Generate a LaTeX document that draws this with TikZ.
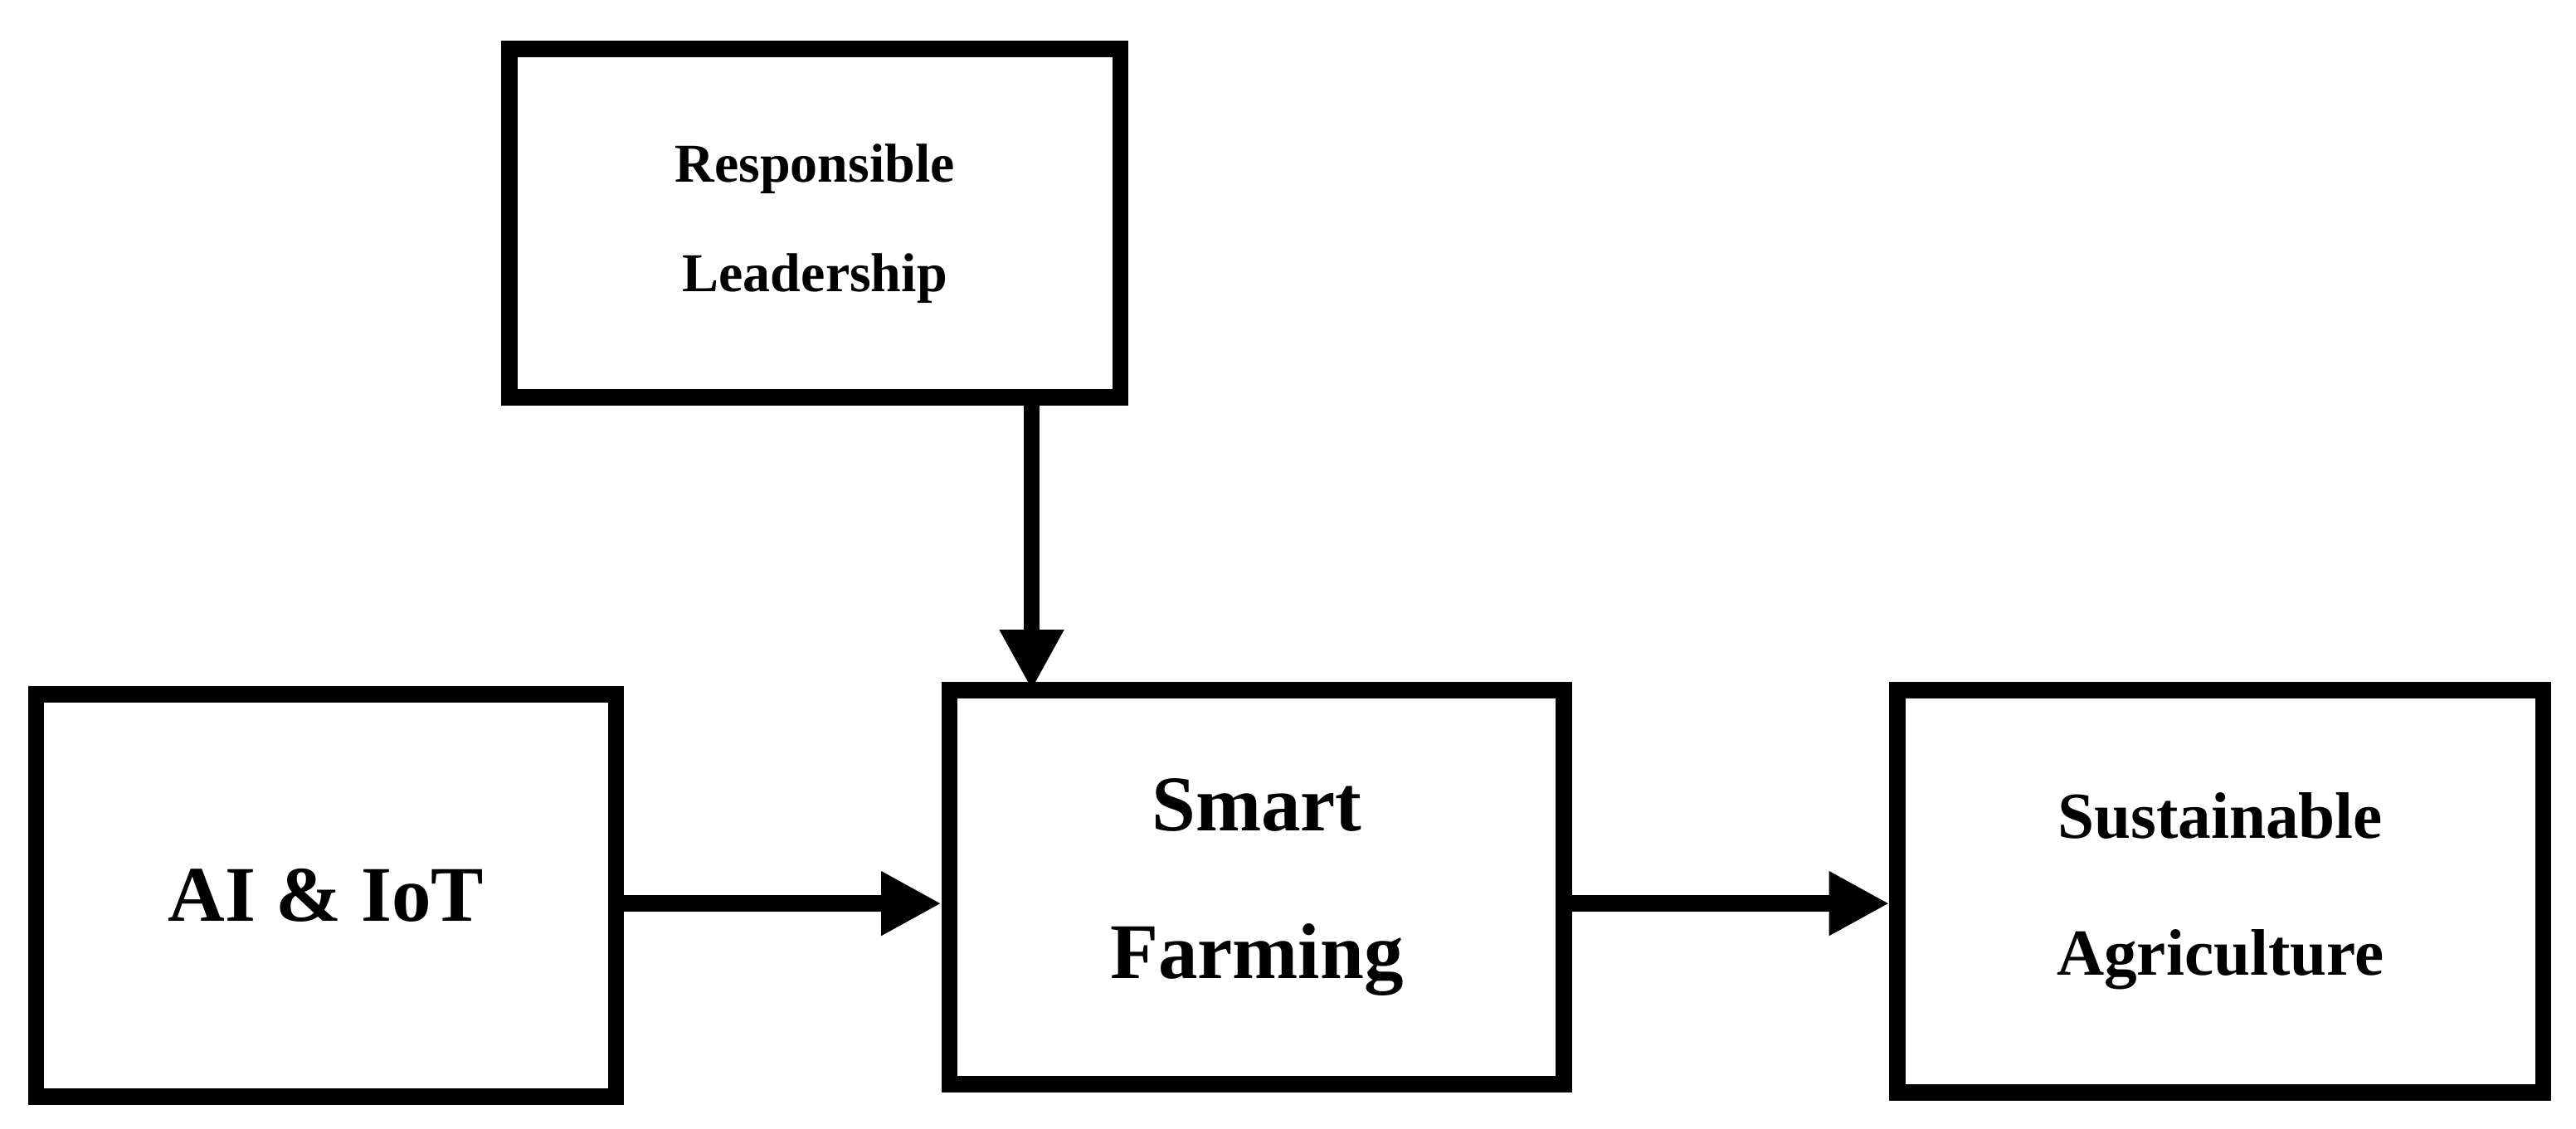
\documentclass[tikz,border=0pt]{standalone}
\usepackage{fontspec}
\setmainfont{Liberation Serif}
\usetikzlibrary{arrows.meta}

\begin{document}
\begin{tikzpicture}[x=0.3pt,y=-0.3pt, line width=3pt]
  \tikzset{box/.style={draw, rectangle, align=center, font=\bfseries, inner sep=0pt},
           link/.style={-{Triangle[length=11pt,width=11pt]}}}
  \useasboundingbox (0,0) rectangle (1568,687);
  % the four boxes
  \node[box, minimum width=111.6pt, minimum height=63.6pt, font=\bfseries\normalsize] (lead) at (496,136) {Responsible\\[8pt]Leadership};
  \node[box, minimum width=105.9pt, minimum height=73.5pt, font=\bfseries\Large] (aiot) at (198.5,545) {AI \& IoT};
  \node[box, minimum width=112.2pt, minimum height=72pt, font=\bfseries\Large] (smart) at (765,540) {Smart\\[9pt]Farming};
  \node[box, minimum width=117.9pt, minimum height=73.5pt, font=\bfseries\large] (sust) at (1351.5,542.5) {Sustainable\\[11pt]Agriculture};
  % connectors
  \coordinate (top) at (628,242);
  \coordinate (bot) at (628,420);
  \draw[link] (top) -- (bot);
  \draw[link] (aiot.east |- 0,550) -- (smart.west |- 0,550);
  \draw[link] (smart.east |- 0,550) -- (sust.west |- 0,550);
\end{tikzpicture}
\end{document}
